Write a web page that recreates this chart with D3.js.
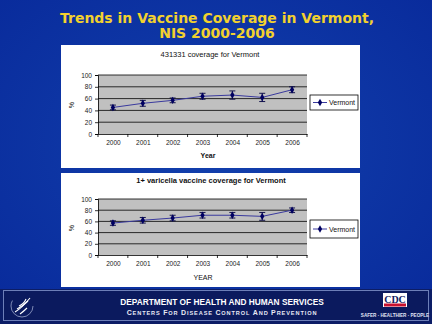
<!DOCTYPE html>
<html><head><meta charset="utf-8">
<script src="https://cdn.jsdelivr.net/npm/d3@7"></script>
<style>html,body{margin:0;padding:0;background:#0b36a3;}svg{display:block;}</style>
</head><body>
<script>
const years = ["2000","2001","2002","2003","2004","2005","2006"];
const yTicks = [0,20,40,60,80,100];
const mmrValues = [45, 52, 57, 64, 66, 62, 75];
const mmrErrors = [4, 5, 4, 5, 7, 7, 5];
const varValues = [57, 62, 66, 71, 71, 69, 80];
const varErrors = [4, 5, 5, 5, 5, 7, 4];
const seriesName = "Vermont";

const W = 432, H = 324;
const svg = d3.select("body").append("svg").attr("width", W).attr("height", H);
const defs = svg.append("defs");
const bg = defs.append("radialGradient").attr("id","bg").attr("cx","50%").attr("cy","45%").attr("r","75%");
bg.append("stop").attr("offset","0%").attr("stop-color","#1240ad");
bg.append("stop").attr("offset","100%").attr("stop-color","#08299a");
svg.append("rect").attr("width",W).attr("height",H).attr("fill","url(#bg)");

// Title
const title = svg.append("text").attr("text-anchor","middle").attr("fill","#f2d12e")
  .attr("font-family","DejaVu Sans, Verdana, sans-serif").attr("font-weight","bold").attr("font-size",14);
title.append("tspan").attr("x",217).attr("y",23).text("Trends in Vaccine Coverage in Vermont,");
title.append("tspan").attr("x",217).attr("y",38).text("NIS 2000-2006");

function drawChart(cfg) {
  const g = svg.append("g");
  g.append("rect").attr("x",cfg.px).attr("y",cfg.py).attr("width",cfg.pw).attr("height",cfg.ph).attr("fill","#ffffff");
  const x = d3.scalePoint().domain(years).range([cfg.x0, cfg.x1]).padding(0.5);
  const y = d3.scaleLinear().domain([0,100]).range([cfg.y0, cfg.y1]);
  g.append("rect").attr("x",cfg.x0).attr("y",y(100)).attr("width",cfg.x1-cfg.x0).attr("height",y(0)-y(100)).attr("fill","#c0c0c0");
  // gridlines
  g.append("g").selectAll("line").data(yTicks.filter(d=>d>0)).join("line")
    .attr("x1",cfg.x0).attr("x2",cfg.x1).attr("y1",d=>y(d)).attr("y2",d=>y(d))
    .attr("stroke","#000").attr("stroke-width",0.8);
  // y axis
  const ya = g.append("g").attr("transform",`translate(${cfg.x0},0)`)
    .call(d3.axisLeft(y).tickValues(yTicks).tickSize(3).tickPadding(3));
  ya.select(".domain").attr("stroke","#000").attr("stroke-width",0.8);
  ya.selectAll(".tick line").attr("stroke","#000").attr("stroke-width",0.8);
  ya.selectAll("text").attr("font-family","Liberation Sans, Arial, sans-serif").attr("font-size",6.5).attr("fill","#222");
  // x axis
  const xa = g.append("g").attr("transform",`translate(0,${cfg.y0})`)
    .call(d3.axisBottom(x).tickSize(0).tickPadding(6));
  xa.select(".domain").attr("stroke","#000").attr("stroke-width",0.8);
  xa.selectAll("text").attr("font-family","Liberation Sans, Arial, sans-serif").attr("font-size",6.5).attr("fill","#222");
  // x tick marks between categories
  const step = x.step();
  g.append("g").selectAll("line").data(d3.range(years.length+1)).join("line")
    .attr("x1",i=>cfg.x0+i*step).attr("x2",i=>cfg.x0+i*step)
    .attr("y1",cfg.y0).attr("y2",cfg.y0+3).attr("stroke","#000").attr("stroke-width",0.8);
  // title
  g.append("text").attr("x",cfg.titleX).attr("y",cfg.titleY).attr("text-anchor","middle")
    .attr("font-family","Liberation Sans, Arial, sans-serif").attr("font-size",7.5)
    .attr("font-weight",cfg.titleBold?"bold":"normal").attr("fill","#111").text(cfg.title);
  g.append("text").attr("x",cfg.xlabX).attr("y",cfg.xlabY).attr("text-anchor","middle")
    .attr("font-family","Liberation Sans, Arial, sans-serif").attr("font-size",7)
    .attr("font-weight",cfg.xlabBold?"bold":"normal").attr("fill","#111").text(cfg.xlab);
  g.append("text").attr("x",cfg.ylabX).attr("y",cfg.ylabY).attr("text-anchor","middle")
    .attr("transform",`rotate(-90,${cfg.ylabX},${cfg.ylabY})`)
    .attr("font-family","Liberation Sans, Arial, sans-serif").attr("font-size",7).attr("fill","#111").text("%");
  // line
  const data = years.map((yr,i)=>({yr, v:cfg.values[i], e:cfg.errors[i]}));
  g.append("path").datum(data).attr("fill","none").attr("stroke","#3a3a9e").attr("stroke-width",1)
    .attr("d", d3.line().x(d=>x(d.yr)).y(d=>y(d.v)));
  // error bars
  const eb = g.append("g").attr("stroke","#000040").attr("stroke-width",0.9);
  eb.selectAll(".v").data(data).join("line").attr("x1",d=>x(d.yr)).attr("x2",d=>x(d.yr))
    .attr("y1",d=>y(d.v+d.e)).attr("y2",d=>y(d.v-d.e));
  eb.selectAll(".t").data(data).join("line").attr("x1",d=>x(d.yr)-3).attr("x2",d=>x(d.yr)+3)
    .attr("y1",d=>y(d.v+d.e)).attr("y2",d=>y(d.v+d.e));
  eb.selectAll(".b").data(data).join("line").attr("x1",d=>x(d.yr)-3).attr("x2",d=>x(d.yr)+3)
    .attr("y1",d=>y(d.v-d.e)).attr("y2",d=>y(d.v-d.e));
  // markers
  g.append("g").selectAll("path").data(data).join("path")
    .attr("transform",d=>`translate(${x(d.yr)},${y(d.v)})`)
    .attr("d", d3.symbol(d3.symbolDiamond, 16)).attr("fill","#000060");
  // legend
  const lg = g.append("g");
  lg.append("rect").attr("x",cfg.lx).attr("y",cfg.ly).attr("width",48).attr("height",cfg.lh)
    .attr("fill","#fff").attr("stroke","#000").attr("stroke-width",0.8);
  const lcy = cfg.ly + cfg.lh/2;
  lg.append("line").attr("x1",cfg.lx+3).attr("x2",cfg.lx+17).attr("y1",lcy).attr("y2",lcy).attr("stroke","#3a3a9e");
  lg.append("path").attr("transform",`translate(${cfg.lx+10},${lcy})`).attr("d",d3.symbol(d3.symbolDiamond,16)).attr("fill","#000060");
  lg.append("text").attr("x",cfg.lx+19).attr("y",lcy+2.5).attr("font-family","Liberation Sans, Arial, sans-serif")
    .attr("font-size",7).attr("fill","#111").text(seriesName);
}

drawChart({px:61,py:45,pw:299,ph:123,x0:98,x1:307,y0:134,y1:75,
  title:"431331 coverage  for Vermont",titleX:210,titleY:57,titleBold:false,
  xlab:"Year",xlabX:208,xlabY:158,xlabBold:true,ylabX:74,ylabY:105,
  values:mmrValues,errors:mmrErrors,lx:310,ly:95,lh:15});
drawChart({px:61,py:173,pw:299,ph:114,x0:98,x1:307,y0:255,y1:199,
  title:"1+ varicella vaccine coverage for Vermont",titleX:211,titleY:183,titleBold:true,
  xlab:"YEAR",xlabX:203,xlabY:280,xlabBold:false,ylabX:74,ylabY:228,
  values:varValues,errors:varErrors,lx:310,ly:220,lh:18});

// Footer
const f = svg.append("g");
f.append("rect").attr("x",0).attr("y",289).attr("width",W).attr("height",35).attr("fill","#0c1d66");
f.append("rect").attr("x",3.5).attr("y",290.5).attr("width",425).attr("height",30).attr("fill","#0b1a5e")
  .attr("stroke","#6d7fb8").attr("stroke-width",1);
f.append("text").attr("x",222).attr("y",305).attr("text-anchor","middle").attr("fill","#fff")
  .attr("font-family","Liberation Sans, Arial, sans-serif").attr("font-weight","bold").attr("font-size",8.3)
  .text("DEPARTMENT OF HEALTH AND HUMAN SERVICES");
const c = f.append("text").attr("x",222).attr("y",315).attr("text-anchor","middle").attr("fill","#e8e8f4")
  .attr("font-family","Liberation Sans, Arial, sans-serif").attr("font-weight","bold").attr("font-size",5.6).attr("letter-spacing",0.9);
["Centers for Disease Control and Prevention"].forEach(s=>{
  s.split(" ").forEach((w,i)=>{
    if(i>0) c.append("tspan").text(" ");
    c.append("tspan").attr("font-size",7).text(w[0].toUpperCase());
    c.append("tspan").text(w.slice(1).toUpperCase());
  });
});
// HHS logo
const hx=22, hy=306;
f.append("circle").attr("cx",hx).attr("cy",hy).attr("r",11).attr("fill","none").attr("stroke","#9aa6cc").attr("stroke-width",0.8).attr("stroke-dasharray","40 30");
const eg = f.append("g").attr("stroke","#ffffff").attr("fill","none").attr("stroke-width",1.1);
eg.append("path").attr("d",`M${hx-7},${hy+6} Q${hx},${hy+2} ${hx+8},${hy-8}`);
eg.append("path").attr("d",`M${hx-5},${hy+3} Q${hx+1},${hy} ${hx+6},${hy-5}`);
eg.append("path").attr("d",`M${hx-3},${hy} Q${hx+2},${hy-2} ${hx+4},${hy-7}`);
eg.append("path").attr("d",`M${hx-2},${hy+8} Q${hx+2},${hy+5} ${hx+5},${hy+2}`);
// CDC logo
f.append("rect").attr("x",383).attr("y",293).attr("width",24).attr("height",14).attr("fill","#ffffff");
f.append("text").attr("x",395).attr("y",302.5).attr("text-anchor","middle").attr("fill","#102060")
  .attr("font-family","Liberation Serif, Times New Roman, serif").attr("font-weight","bold").attr("font-size",10).text("CDC");
f.append("rect").attr("x",384).attr("y",303.5).attr("width",22).attr("height",3).attr("fill","#c8102e");
f.append("text").attr("x",395).attr("y",316.5).attr("text-anchor","middle").attr("fill","#e0e4f4")
  .attr("font-family","Liberation Sans, Arial, sans-serif").attr("font-weight","bold").attr("font-size",4.6)
  .text("SAFER · HEALTHIER · PEOPLE");
</script>
</body></html>
